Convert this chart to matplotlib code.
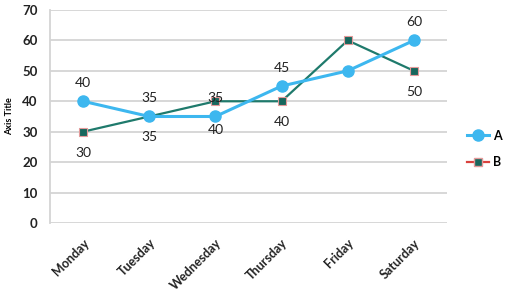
import matplotlib.pyplot as plt
from matplotlib.lines import Line2D

days = ['Monday', 'Tuesday', 'Wednesday', 'Thursday', 'Friday', 'Saturday']
a_vals = [40, 35, 35, 45, 50, 60]
b_vals = [30, 35, 40, 40, 60, 50]
# which points carry a data label (Friday has none in the original)
show_label = [True, True, True, True, False, True]

plt.rcParams['font.family'] = ['Lato', 'DejaVu Sans']

fig = plt.figure(figsize=(5.09, 2.98), dpi=100)
ax = fig.add_axes([0.0982, 0.2517, 0.7800, 0.7148])

x = list(range(len(days)))
grid_col = '#d4d4d4'

# series lines
ax.plot(x, b_vals, color='#1f7a6c', lw=1.6, marker='s', markersize=6,
        markerfacecolor='#17675d', markeredgecolor='#e49a9a',
        markeredgewidth=0.8, zorder=3)
ax.plot(x, a_vals, color='#3db7ef', lw=2.2, marker='o', markersize=8,
        markerfacecolor='#3db7ef', markeredgecolor='#3db7ef', zorder=4)

# data labels: A above its point, B below the lower of the two points
for i in x:
    if not show_label[i]:
        continue
    ax.annotate(str(a_vals[i]), (i, a_vals[i]), xytext=(0, 13),
                textcoords='offset points', ha='center', va='center',
                fontsize=10, color='#222222')
    low = min(a_vals[i], b_vals[i])
    off = -15 if low == b_vals[i] else -10
    ax.annotate(str(b_vals[i]), (i, low), xytext=(0, off),
                textcoords='offset points', ha='center', va='center',
                fontsize=10, color='#222222')

ax.set_xlim(-0.5, len(days) - 0.5)
ax.set_ylim(0, 70)
ax.set_yticks(range(0, 71, 10))
ax.yaxis.grid(True, color=grid_col, lw=1.3)
ax.set_axisbelow(True)

for s in ['top', 'right', 'bottom']:
    ax.spines[s].set_visible(False)
ax.spines['left'].set_color(grid_col)
ax.spines['left'].set_linewidth(1.3)

ax.tick_params(axis='both', length=0)
ax.tick_params(axis='y', pad=9)
ax.set_yticklabels([str(v) for v in range(0, 71, 10)], fontsize=9.5,
                   fontweight='bold', color='#222222')
ax.set_xticks(x)
ax.set_xticklabels(days, rotation=45, ha='right', rotation_mode='anchor',
                   fontsize=9, fontweight='bold', color='#222222')
ax.tick_params(axis='x', pad=10)
ax.set_ylabel('Axis Title', fontsize=6.5, fontweight='bold', labelpad=6)

# legend (B handle drawn with a red line as in the original)
handles = [
    Line2D([], [], color='#3db7ef', lw=2.2, marker='o', markersize=8),
    Line2D([], [], color='#d9413d', lw=1.6, marker='s', markersize=6,
           markerfacecolor='#17675d', markeredgecolor='#e49a9a'),
]
fig.legend(handles, ['A', 'B'], loc='center left',
           bbox_to_anchor=(0.895, 0.5), frameon=False,
           prop={'weight': 'bold', 'size': 9}, handlelength=1.8,
           handletextpad=0.3, labelspacing=1.2)

fig.savefig('out.png', dpi=100)
